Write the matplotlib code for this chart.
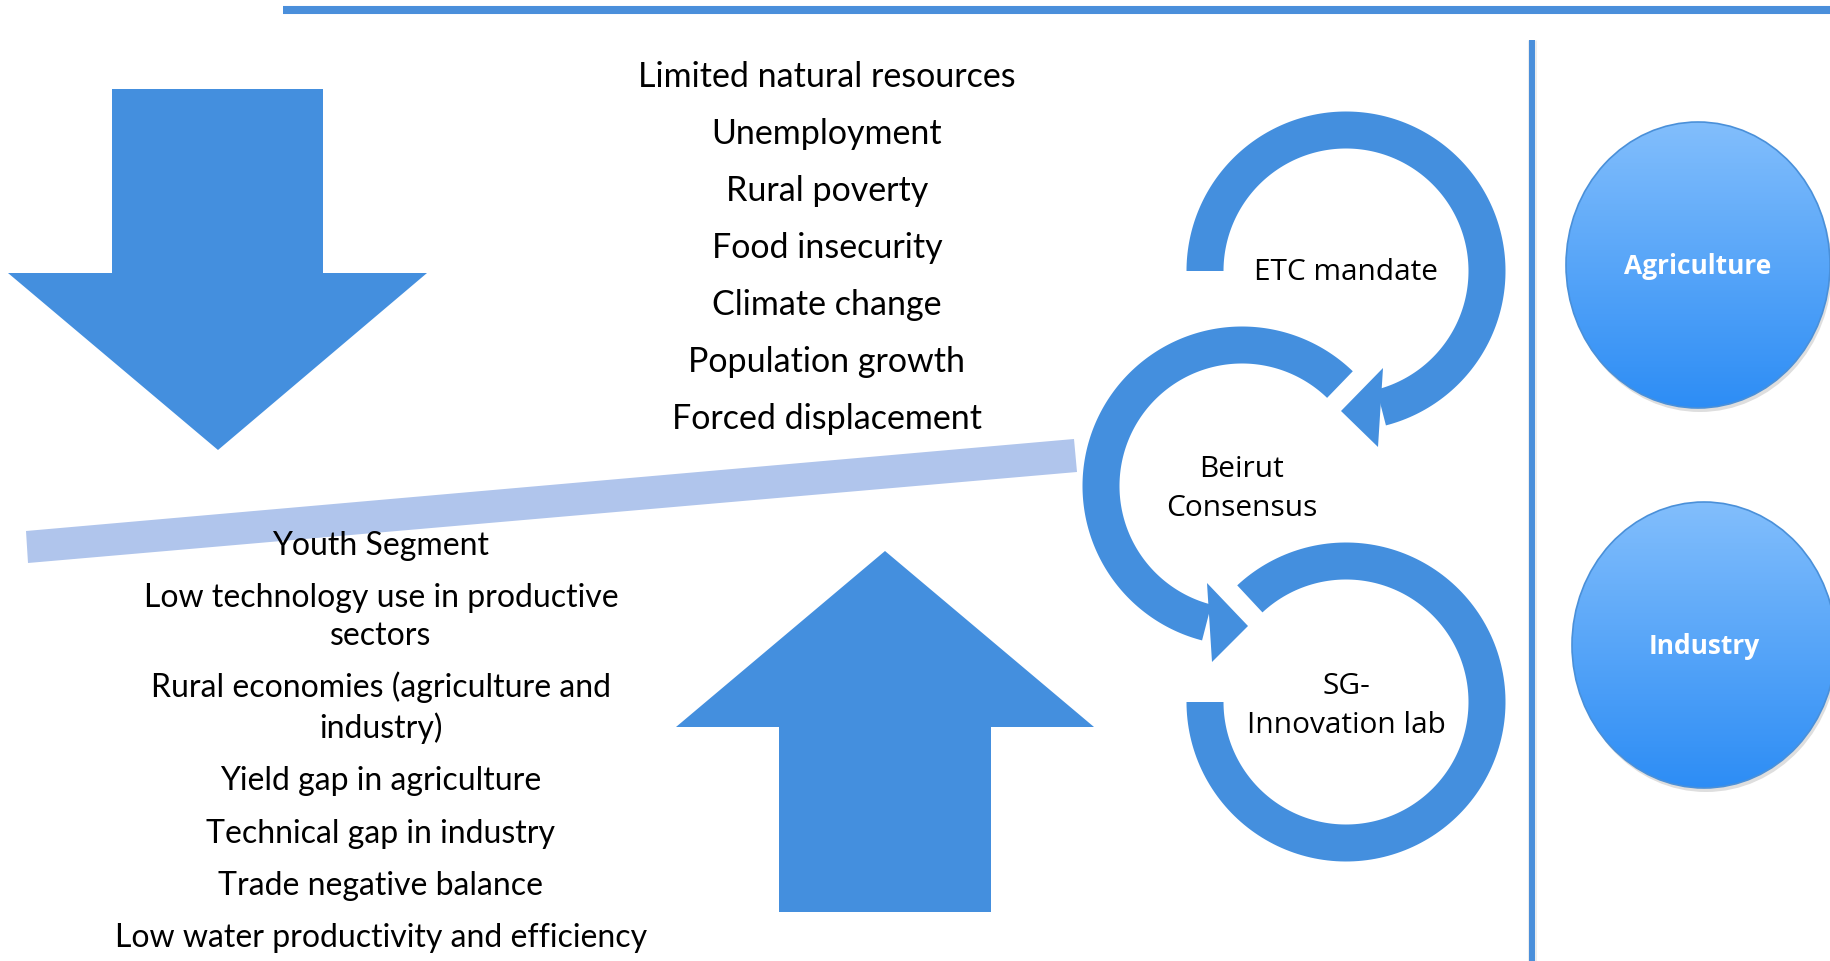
import numpy as np
import matplotlib.pyplot as plt
from matplotlib.patches import Polygon, Ellipse

# text content
top_items = ['Limited natural resources', 'Unemployment', 'Rural poverty',
             'Food insecurity', 'Climate change', 'Population growth',
             'Forced displacement']
bottom_items = ['Youth Segment', 'Low technology use in productive\nsectors',
                'Rural economies (agriculture and\nindustry)',
                'Yield gap in agriculture', 'Technical gap in industry',
                'Trade negative balance', 'Low water productivity and efficiency']
cycle_labels = ['ETC mandate', 'Beirut\nConsensus', 'SG-\nInnovation lab']
sectors = ['Agriculture', 'Industry']

blue = '#448fde'
light = '#b0c5ec'

fig = plt.figure(figsize=(18.31, 9.61), dpi=100)
ax = fig.add_axes([0, 0, 1, 1])
ax.set_xlim(0, 1831)
ax.set_ylim(961, 0)
ax.axis('off')

# frame lines
ax.plot([283, 1831], [10, 10], color='#4a8fdb', lw=5.8, solid_capstyle='butt')
ax.plot([1532, 1532], [40, 961], color='#dddddd', lw=6.5, solid_capstyle='butt', alpha=0.5)
ax.plot([1532, 1532], [40, 961], color='#4a8fdb', lw=4.3, solid_capstyle='butt')

# big arrows
down = [(112, 89), (323, 89), (323, 273), (427, 273), (218, 450), (8, 273), (112, 273)]
up = [(885, 551), (1094, 727), (991, 727), (991, 912), (779, 912), (779, 727), (676, 727)]
ax.add_patch(Polygon(down, closed=True, fc=blue, ec='none'))
ax.add_patch(Polygon(up, closed=True, fc=blue, ec='none'))

# slanted bar
ax.add_patch(Polygon([(26, 531), (1074, 439), (1077, 472), (28, 563)],
                     closed=True, fc=light, ec='none'))


def ring(cx, cy, r, w, t0, t1, head=None):
    t = np.radians(np.linspace(t0, t1, 200))
    ro, ri = r + w / 2, r - w / 2
    pts = np.vstack([np.c_[cx + ro * np.cos(t), cy + ro * np.sin(t)],
                     np.c_[cx + ri * np.cos(t[::-1]), cy + ri * np.sin(t[::-1])]])
    ax.add_patch(Polygon(pts, closed=True, fc=blue, ec='none'))
    if head is not None:
        ax.add_patch(Polygon(head, closed=True, fc=blue, ec='none'))


ring(1346, 271, 141, 37, 180, 435.5, head=[(1383, 368), (1341, 411), (1378, 447)])
ring(1242, 486, 141, 37, 314, 104.5, head=[(1207, 583), (1248, 626), (1212, 662)])
ring(1346, 702, 141, 37, 227, 540)

ring_font = 'Open Sans'
ax.text(1346, 272, cycle_labels[0], ha='center', va='center', fontsize=21.5, family=ring_font)
ax.text(1242, 489, cycle_labels[1], ha='center', va='center', fontsize=21.5,
        family=ring_font, linespacing=1.45)
ax.text(1346, 706, cycle_labels[2], ha='center', va='center', fontsize=21.5,
        family=ring_font, linespacing=1.45)

# text lists
list_font = 'Lato'
for i, s in enumerate(top_items):
    ax.text(827, 77 + 57 * i, s, ha='center', va='center', fontsize=24.5, family=list_font)

ys = [546, 617, 708, 781, 834, 886, 938]
for s, y in zip(bottom_items, ys):
    ax.text(381, y, s, ha='center', va='center', fontsize=23, family=list_font,
            linespacing=1.36)

# gradient ellipses
grad = np.linspace(0, 1, 256).reshape(-1, 1)
cmap = plt.matplotlib.colors.LinearSegmentedColormap.from_list('g', ['#82befc', '#2d8df5'])
for name, (cx, cy) in zip(sectors, [(1698, 265), (1704, 645)]):
    w, h = 264, 286
    sh = Ellipse((cx + 2, cy + 4), w, h, fc='#c8c8c8', ec='none', alpha=0.6)
    ax.add_patch(sh)
    el = Ellipse((cx, cy), w, h, fc='none', ec='#4a90d9', lw=1.2, zorder=3)
    ax.add_patch(el)
    im = ax.imshow(grad, extent=[cx - w / 2, cx + w / 2, cy + h / 2, cy - h / 2],
                   cmap=cmap, aspect='auto', zorder=2)
    im.set_clip_path(el)
    ax.text(cx, cy + 1, name, ha='center', va='center', fontsize=19, weight='bold',
            color='white', family='Open Sans', zorder=4)

ax.set_xlim(0, 1831)
ax.set_ylim(961, 0)
fig.savefig('out.png', dpi=100)
